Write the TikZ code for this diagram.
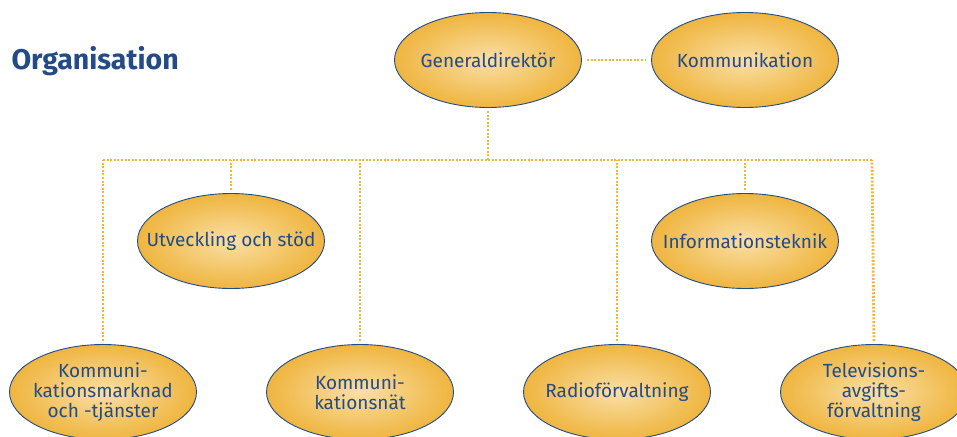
\documentclass[tikz,border=0pt]{standalone}
\usepackage{fontspec}
\setmainfont{Fira Sans}
\usetikzlibrary{shapes.geometric}
\definecolor{orgblue}{HTML}{234C86}
\definecolor{orgline}{HTML}{F2B638}
\definecolor{orgedge}{HTML}{EFB53F}
\definecolor{orgmid}{HTML}{FADFA6}
\begin{document}
\begin{tikzpicture}[x=1pt,y=-1pt,
	unit/.style={ellipse,draw=orgblue,line width=0.9pt,shade,inner color=orgmid,outer color=orgedge,
		minimum width=187pt,minimum height=95pt,inner xsep=-21pt,inner ysep=0pt,align=center,text=orgblue,
		font=\fontsize{19}{20}\selectfont},
	link/.style={orgline,line width=2.8pt,dash pattern=on 2pt off 1.6pt},
	node distance=257pt]
			\useasboundingbox (0,0) rectangle (957,436);
			\node[anchor=base west,text=orgblue,font=\fontsize{28.5}{30}\selectfont\bfseries] (title) at (8,70) {Organisation};
			
			\node[unit] (gd) at (488,60) {Generaldirektör};
			\node[unit,right of=gd] (kom) {Kommunikation};
			\node[unit] (uts) at (231,241) {Utveckling och stöd};
			\node[unit,right of=uts,node distance=514pt] (it) {Informationsteknik};
			\node[unit] (kmt) at (103,392) {Kommuni-\\kationsmarknad\\och -tjänster};
			\node[unit,right of=kmt] (knt) {Kommuni-\\kationsnät};
			\node[unit,right of=knt] (rad) {Radioförvaltning};
			\node[unit,right of=rad] (tv) {Televisions-\\avgifts-\\förvaltning};
			
			\coordinate (busl) at (103,160);
			\coordinate (busr) at (872,160);
			\draw[link,shorten <=5pt,shorten >=5pt] (gd) -- (kom);
			\draw[link,shorten <=3pt] (gd.south) -- (gd.south |- busl);
			\draw[link] (busl) -- (busr);
			\draw[link,shorten <=3pt] (uts.north) -- (uts.north |- busl);
			\draw[link,shorten <=3pt] (it.north) -- (it.north |- busl);
			\draw[link,shorten <=3pt] (kmt.north) -- (busl);
			\draw[link,shorten <=3pt] (knt.north) -- (knt.north |- busl);
			\draw[link,shorten <=3pt] (rad.north) -- (rad.north |- busl);
			\draw[link,shorten <=3pt] (tv.north) -- (busr);
		\end{tikzpicture}
\end{document}
